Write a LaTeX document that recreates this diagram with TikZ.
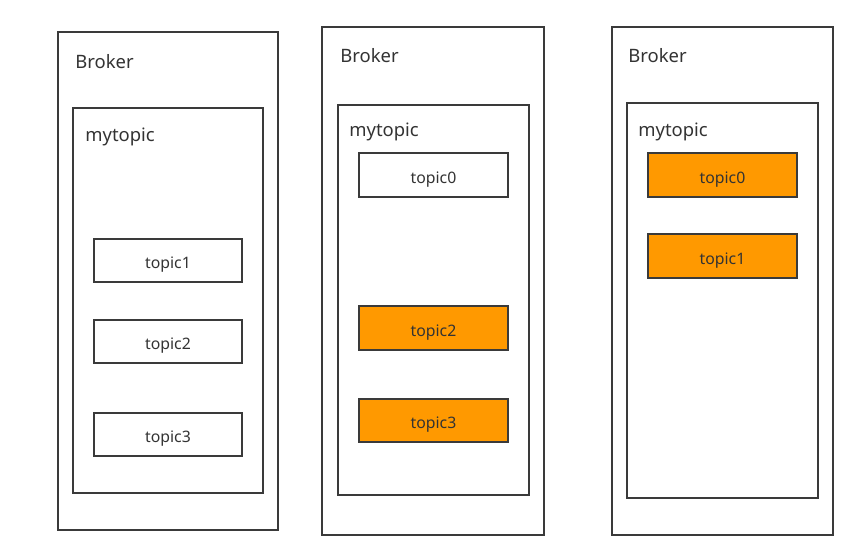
\documentclass[tikz,border=0pt]{standalone}
\usepackage{fontspec}
\setmainfont{Noto Sans}
\usepackage{tikz}

\definecolor{kafka}{HTML}{FF9900}
\definecolor{edge}{HTML}{3A3A3A}

\begin{document}
\begin{tikzpicture}[x=0.02cm,y=-0.02cm,
  box/.style={draw=edge,line width=1.1pt,inner sep=0pt,fill=white},
  part/.style={box,minimum width=2.97cm,minimum height=0.87cm,font=\fontsize{9}{11}\selectfont,
    text height=1.9ex,text depth=0.1ex,text=black!80},
  hot/.style={part,fill=kafka},
  lab/.style={anchor=base west,inner sep=0pt,font=\fontsize{10.5}{12}\selectfont,text=black!80}]
\useasboundingbox (0,0) rectangle (860,542);
% broker 1
\node[box,minimum width=4.4cm,minimum height=9.96cm] (b1) at (168,281) {};
\node[box,minimum width=3.8cm,minimum height=7.7cm] (m1) at (168,300.5) {};
\node[lab] (bl1) at (75,68) {Broker};
\node[lab] (ml1) at (85,141) {mytopic};
\foreach \y/\t in {260.5/1,341.5/2,434.5/3}{
  \node[part] (p1\t) at (168,\y) {topic\t};
}
% broker 2
\node[box,minimum width=4.44cm,minimum height=10.16cm] (b2) at (433,281) {};
\node[box,minimum width=3.82cm,minimum height=7.8cm] (m2) at (433.5,300) {};
\node[lab] (bl2) at (340,62) {Broker};
\node[lab] (ml2) at (349,136) {mytopic};
\node[part] (p20) at (433.5,175) {topic0};
\node[hot] (p22) at (433.5,328) {topic2};
\node[hot] (p23) at (433.5,420.5) {topic3};
% broker 3
\node[box,minimum width=4.42cm,minimum height=10.16cm] (b3) at (722.5,281) {};
\node[box,minimum width=3.82cm,minimum height=7.9cm] (m3) at (722.5,300.5) {};
\node[lab] (bl3) at (628,62) {Broker};
\node[lab] (ml3) at (638,136) {mytopic};
\node[hot] (p30) at (722.5,175) {topic0};
\node[hot] (p31) at (722.5,256) {topic1};
\end{tikzpicture}
\end{document}
